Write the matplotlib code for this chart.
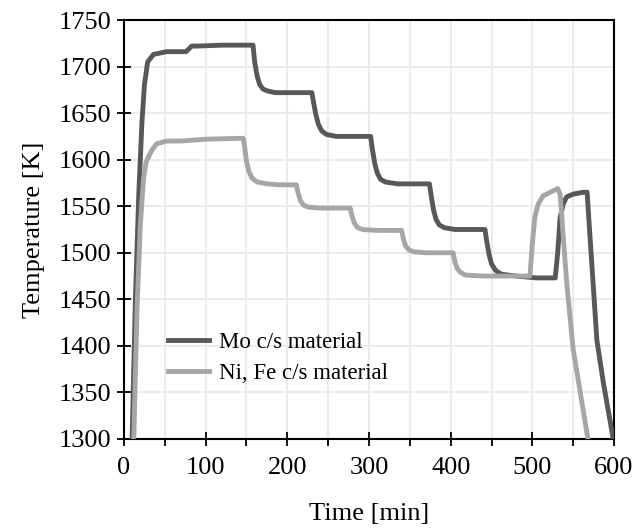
import numpy as np
import matplotlib
matplotlib.use('Agg')
import matplotlib.pyplot as plt
from matplotlib.ticker import MultipleLocator

# values
# Mo c/s material
t_mo = [10, 14, 18, 22, 25, 29, 36, 52, 76, 83, 90, 120, 158, 160, 163, 166, 170, 175, 185, 200,
        230, 232, 235, 238, 242, 248, 260, 280, 302, 304, 307, 310, 314, 320, 335, 350, 374,
        376, 379, 382, 386, 392, 405, 420, 442, 444, 447, 450, 455, 462, 480, 505, 528, 531,
        534, 538, 542, 550, 562, 567, 573, 579, 587, 599]
T_mo = [1300, 1450, 1560, 1640, 1680, 1705, 1713, 1716, 1716, 1722, 1722, 1723, 1723,
        1705, 1690, 1681, 1676, 1674, 1672, 1672, 1672, 1662, 1648, 1638, 1631, 1627,
        1625, 1625, 1625, 1612, 1596, 1586, 1579, 1576, 1574, 1574, 1574, 1562, 1546,
        1536, 1530, 1527, 1525, 1525, 1525, 1513, 1498, 1488, 1481, 1477, 1475, 1473,
        1473, 1500, 1538, 1553, 1560, 1563, 1565, 1565, 1485, 1406, 1360, 1300]

# Ni, Fe c/s material
t_ni = [12, 16, 20, 24, 27, 30, 34, 40, 52, 70, 100, 146, 148, 150, 153, 157, 163, 175, 190,
        211, 213, 216, 220, 226, 240, 260, 277, 279, 282, 286, 292, 310, 340, 342, 345, 349,
        355, 370, 403, 405, 408, 412, 418, 440, 470, 497, 500, 503, 507, 513, 522, 531, 534,
        542, 550, 568]
T_ni = [1300, 1440, 1530, 1580, 1597, 1603, 1610, 1617, 1620, 1620, 1622, 1623, 1612,
        1598, 1587, 1580, 1576, 1574, 1573, 1573, 1565, 1556, 1551, 1549, 1548, 1548,
        1548, 1540, 1532, 1527, 1525, 1524, 1524, 1515, 1507, 1503, 1501, 1500, 1500,
        1491, 1483, 1479, 1476, 1475, 1475, 1475, 1510, 1538, 1552, 1561, 1565, 1569,
        1563, 1468, 1396, 1300]

series_names = ['Mo c/s material', 'Ni, Fe c/s material']

plt.rcParams['font.family'] = ['Liberation Serif', 'DejaVu Serif']
plt.rcParams['font.size'] = 19

fig = plt.figure(figsize=(6.44, 5.31), dpi=100)
ax = fig.add_axes([0.1925, 0.1733, 0.761, 0.789])

ax.plot(t_mo, T_mo, color='#585858', lw=3.5, label=series_names[0], zorder=3)
ax.plot(t_ni, T_ni, color='#a6a6a6', lw=3.5, label=series_names[1], zorder=3)

ax.set_xlim(0, 600)
ax.set_ylim(1300, 1750)
ax.xaxis.set_major_locator(MultipleLocator(100))
ax.xaxis.set_minor_locator(MultipleLocator(50))
ax.yaxis.set_major_locator(MultipleLocator(50))
ax.grid(True, which='major', color='#ebebeb', lw=1.5, zorder=0)
ax.grid(True, which='minor', axis='x', color='#ebebeb', lw=1.5, zorder=0)
ax.tick_params(which='major', direction='inout', length=10, width=1.3, pad=4,
               labelsize=19)
ax.tick_params(axis='x', which='major', pad=8)
ax.tick_params(which='minor', direction='out', length=5, width=1.3)
for s in ax.spines.values():
    s.set_linewidth(1.5)

ax.set_xlabel('Time [min]', fontsize=19, labelpad=17)
ax.set_ylabel('Temperature [K]', fontsize=19, labelpad=10)

ax.legend(loc='upper left', bbox_to_anchor=(0.048, 0.305), frameon=False,
          handlelength=1.8, handletextpad=0.4, fontsize=16.5, labelspacing=0.45)

plt.savefig('out.png', dpi=100)
